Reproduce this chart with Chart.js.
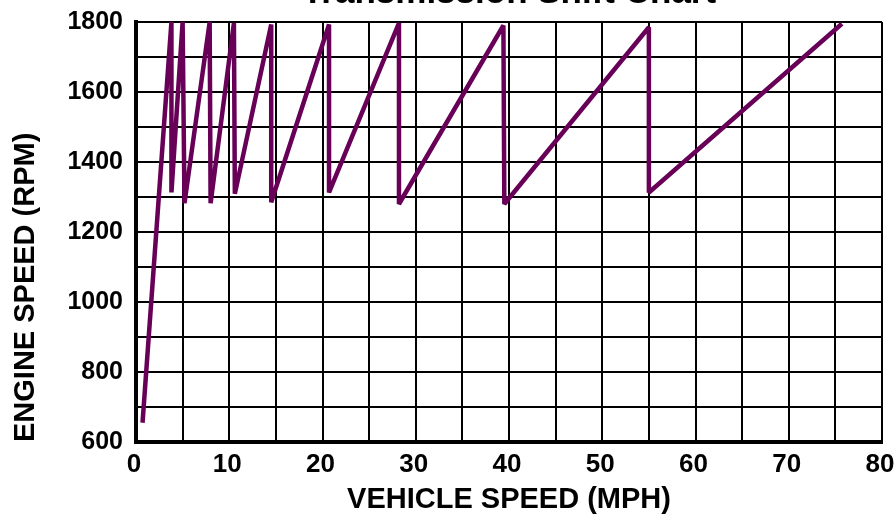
<!DOCTYPE html>
<html>
<head>
    <title>Transmission Shift Chart</title>
    <script src="https://cdn.jsdelivr.net/npm/chart.js"></script>
    <style>
        body { margin: 0; background: #fff; }
    </style>
</head>
<body>

<canvas id="shift_chart" width="894" height="517"></canvas>

<script>
// vehicle speed (mph) and engine speed (rpm) along the shift curve
const speedMph = [0.7, 3.8, 3.8, 5.0, 5.2, 7.9, 8.0, 10.5, 10.6, 14.5, 14.5, 20.7, 20.7, 28.2, 28.2, 39.4, 39.5, 55.0, 55.0, 75.7];
const engineRpm = [655, 1800, 1313, 1800, 1282, 1800, 1282, 1797, 1309, 1793, 1285, 1793, 1313, 1797, 1280, 1790, 1280, 1785, 1313, 1795];

const xTickLabels = [0, 10, 20, 30, 40, 50, 60, 70, 80];
const yTickLabels = [600, 800, 1000, 1200, 1400, 1600, 1800];

document.addEventListener("DOMContentLoaded", function() {
    const ctx = document.getElementById('shift_chart').getContext('2d');
    const points = speedMph.map((x, i) => ({x: x, y: engineRpm[i]}));
    const fontFamily = '"Liberation Sans", Arial, Helvetica, sans-serif';

    new Chart(ctx, {
        type: 'line',
        data: {
            datasets: [{
                label: 'Shift curve',
                data: points,
                borderColor: '#680058',
                borderWidth: 4.5,
                borderJoinStyle: 'bevel',
                pointRadius: 0,
                tension: 0,
                fill: false,
                clip: 1
            }]
        },
        options: {
            responsive: false,
            animation: false,
            layout: {
                padding: { left: 0, right: 12, top: 0, bottom: 0 }
            },
            scales: {
                x: {
                    type: 'linear',
                    min: 0,
                    max: 80,
                    afterFit: function(scale) {
                        scale.height = 75;
                        scale.paddingLeft = 0;
                        scale.paddingRight = 0;
                    },
                    grid: { color: '#000', lineWidth: 2, drawTicks: false },
                    border: { color: '#000', width: 4 },
                    ticks: {
                        stepSize: 5,
                        autoSkip: false,
                        maxRotation: 0,
                        padding: 7,
                        labelOffset: -2,
                        color: '#000',
                        font: { family: fontFamily, size: 26, weight: 'bold' },
                        callback: function(value) {
                            return xTickLabels.includes(value) ? String(value) : '';
                        }
                    },
                    title: {
                        display: true,
                        text: 'VEHICLE SPEED (MPH)',
                        color: '#000',
                        font: { family: fontFamily, size: 29, weight: 'bold' },
                        padding: { top: 0, bottom: 0 }
                    }
                },
                y: {
                    min: 600,
                    max: 1800,
                    afterFit: function(scale) {
                        scale.width = 136;
                        scale.paddingTop = 0;
                        scale.paddingBottom = 0;
                    },
                    grid: { color: '#000', lineWidth: 2, drawTicks: false },
                    border: { color: '#000', width: 4 },
                    ticks: {
                        stepSize: 100,
                        autoSkip: false,
                        padding: 13,
                        color: '#000',
                        font: { family: fontFamily, size: 25, weight: 'bold' },
                        callback: function(value) {
                            return yTickLabels.includes(value) ? String(value) : '';
                        }
                    },
                    title: {
                        display: true,
                        text: 'ENGINE SPEED (RPM)',
                        align: 'start',
                        color: '#000',
                        font: { family: fontFamily, size: 29, weight: 'bold' },
                        padding: { top: 9, bottom: 0 }
                    }
                }
            },
            plugins: {
                legend: { display: false },
                tooltip: { enabled: false },
                title: {
                    display: true,
                    text: 'Transmission Shift Chart',
                    fullSize: false,
                    color: '#000',
                    font: { family: fontFamily, size: 35, weight: 'bold' },
                    padding: { top: -28, bottom: 8 }
                }
            }
        }
    });
});
</script>

</body>
</html>
